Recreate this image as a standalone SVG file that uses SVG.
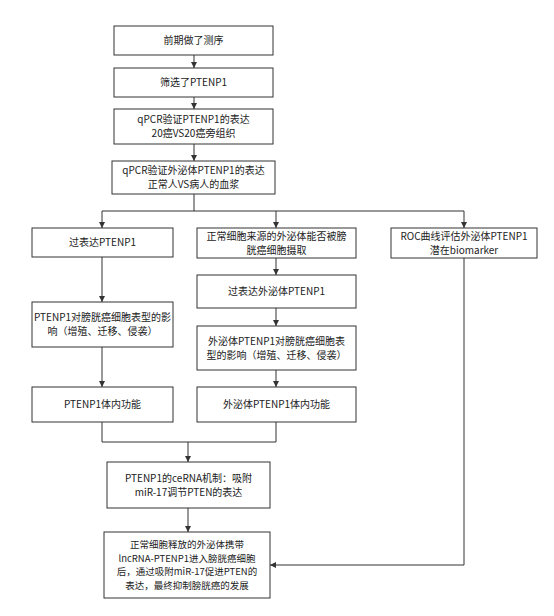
<svg xmlns="http://www.w3.org/2000/svg" width="554" height="616" viewBox="0 0 554 616">
<defs>
<style>
.box{fill:#fff;stroke:#333;stroke-width:1}
.t{font-family:"Noto Sans CJK SC","Noto Sans",sans-serif;font-size:10px;fill:#222;text-anchor:middle}
.s{font-size:9.5px}
.c{fill:none;stroke:#333;stroke-width:1}
</style>
<marker id="ah" viewBox="0 0 10 10" refX="10" refY="5" markerWidth="7" markerHeight="6" orient="auto" markerUnits="userSpaceOnUse">
<path d="M0,0 L10,5 L0,10 z" fill="#333"/>
</marker>
</defs>
<rect width="554" height="616" fill="#fff"/>
<g id="connectors">
<path class="c" d="M194,55 V68" marker-end="url(#ah)"/>
<path class="c" d="M194,97 V109" marker-end="url(#ah)"/>
<path class="c" d="M194,144 V161" marker-end="url(#ah)"/>
<path class="c" d="M194,194 V211"/>
<path class="c" d="M102,211 H464"/>
<path class="c" d="M102,211 V228" marker-end="url(#ah)"/>
<path class="c" d="M276,211 V228" marker-end="url(#ah)"/>
<path class="c" d="M464,211 V228" marker-end="url(#ah)"/>
<path class="c" d="M102,257 V302" marker-end="url(#ah)"/>
<path class="c" d="M102,347 V387" marker-end="url(#ah)"/>
<path class="c" d="M276,258 V275" marker-end="url(#ah)"/>
<path class="c" d="M276,308 V326" marker-end="url(#ah)"/>
<path class="c" d="M276,370 V387" marker-end="url(#ah)"/>
<path class="c" d="M102,422 V442 H276 V422"/>
<path class="c" d="M188,442 V462" marker-end="url(#ah)"/>
<path class="c" d="M188,508 V532" marker-end="url(#ah)"/>
<path class="c" d="M464,258 V565 H270" marker-end="url(#ah)"/>
</g>
<g id="n1"><rect class="box" x="114" y="26" width="159" height="29"/><text class="t" x="193.5" y="44">前期做了测序</text></g>
<g id="n2"><rect class="box" x="114" y="68" width="159" height="29"/><text class="t" x="193.5" y="86">筛选了PTENP1</text></g>
<g id="n3"><rect class="box" x="114" y="109" width="159" height="35"/><text class="t" x="193.5" y="123">qPCR验证PTENP1的表达</text><text class="t" x="193.5" y="137">20癌VS20癌旁组织</text></g>
<g id="n4"><rect class="box" x="112" y="161" width="163" height="33"/><text class="t" x="193.5" y="174">qPCR验证外泌体PTENP1的表达</text><text class="t" x="193.5" y="188">正常人VS病人的血浆</text></g>
<g id="l1"><rect class="box" x="32" y="228" width="141" height="29"/><text class="t" x="102.5" y="246">过表达PTENP1</text></g>
<g id="l2"><rect class="box" x="32" y="302" width="141" height="45"/><text class="t" x="102.5" y="321">PTENP1对膀胱癌细胞表型的影</text><text class="t" x="102.5" y="335">响（增殖、迁移、侵袭）</text></g>
<g id="l3"><rect class="box" x="32" y="387" width="141" height="35"/><text class="t" x="102.5" y="408">PTENP1体内功能</text></g>
<g id="m1"><rect class="box" x="197" y="228" width="159" height="30"/><text class="t" x="276.5" y="240">正常细胞来源的外泌体能否被膀</text><text class="t" x="276.5" y="253.5">胱癌细胞摄取</text></g>
<g id="m2"><rect class="box" x="197" y="275" width="159" height="33"/><text class="t" x="276.5" y="295">过表达外泌体PTENP1</text></g>
<g id="m3"><rect class="box" x="197" y="326" width="159" height="44"/><text class="t" x="276.5" y="344.5">外泌体PTENP1对膀胱癌细胞表</text><text class="t" x="276.5" y="358.5">型的影响（增殖、迁移、侵袭）</text></g>
<g id="m4"><rect class="box" x="197" y="387" width="159" height="35"/><text class="t" x="276.5" y="408">外泌体PTENP1体内功能</text></g>
<g id="r1"><rect class="box" x="391" y="228" width="146" height="30"/><text class="t" x="464" y="240">ROC曲线评估外泌体PTENP1</text><text class="t" x="464" y="253.5">潜在biomarker</text></g>
<g id="c1"><rect class="box" x="107" y="462" width="163" height="46"/><text class="t" x="188.5" y="482">PTENP1的ceRNA机制：吸附</text><text class="t" x="188.5" y="496">miR-17调节PTEN的表达</text></g>
<g id="f1"><rect class="box" x="104" y="532" width="166" height="66"/><text class="t s" x="187" y="548">正常细胞释放的外泌体携带</text><text class="t s" x="187" y="561.5">lncRNA-PTENP1进入膀胱癌细胞</text><text class="t s" x="187" y="575">后，通过吸附miR-17促进PTEN的</text><text class="t s" x="187" y="588.5">表达，最终抑制膀胱癌的发展</text></g>
</svg>
